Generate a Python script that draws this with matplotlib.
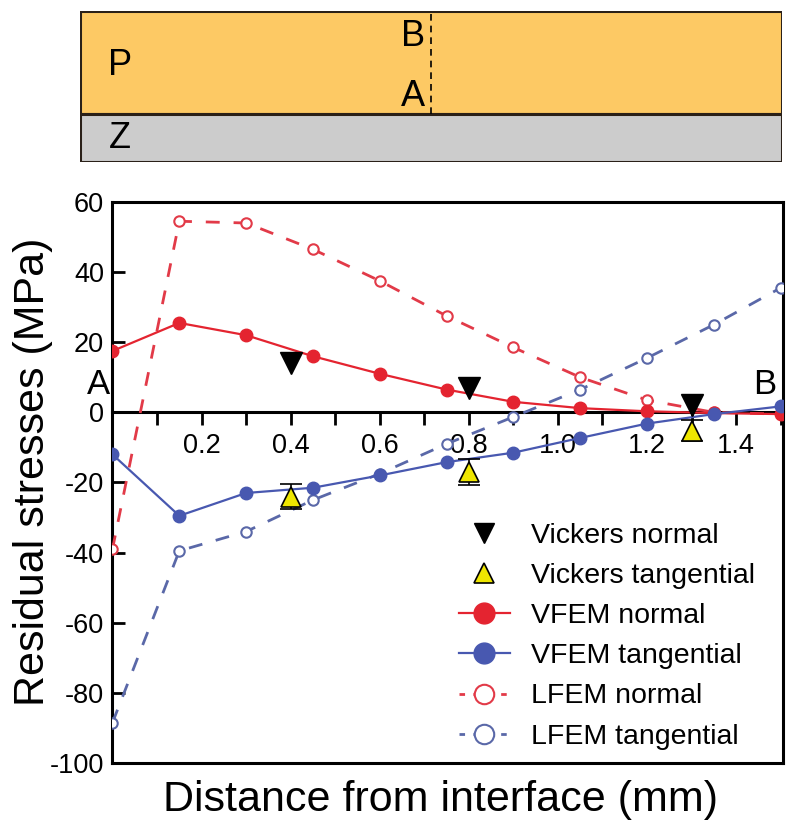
import matplotlib
matplotlib.use("Agg")
import matplotlib.pyplot as plt
from matplotlib.patches import Rectangle
from matplotlib.lines import Line2D
from matplotlib.ticker import MultipleLocator

plt.rcParams['font.family'] = ['Liberation Sans', 'DejaVu Sans']
plt.rcParams['axes.unicode_minus'] = False

# distance from interface (mm) for the FEM curves
dist = [0.0, 0.15, 0.30, 0.45, 0.60, 0.75, 0.90, 1.05, 1.20, 1.35, 1.50]
vfem_normal = [17.5, 25.5, 22.0, 16.0, 11.0, 6.5, 3.0, 1.2, 0.3, -0.2, -0.5]
vfem_tang = [-12.0, -29.5, -23.0, -21.5, -18.0, -14.2, -11.5, -7.3, -3.2, -0.5, 1.7]
lfem_normal = [-39.0, 54.5, 54.0, 46.5, 37.5, 27.5, 18.5, 10.0, 3.5, 0.0, -0.5]
lfem_tang = [-88.5, -39.5, -34.0, -25.0, -17.5, -9.0, -1.3, 6.5, 15.5, 25.0, 35.5]

# Vickers measurements
vk_x = [0.40, 0.80, 1.30]
vk_normal = [14.2, 7.0, 2.0]
vk_normal_err = [1.2, 0.0, 0.0]
vk_tang = [-24.0, -17.0, -5.2]
vk_tang_err = [3.7, 3.7, 3.0]

red = '#e42430'
blue = '#4858b0'
red_d = '#e23a48'
blue_d = '#5a68a8'

fig = plt.figure(figsize=(8, 8.38), dpi=100)

# ---- schematic on top
ax0 = fig.add_axes([0.1, 0.807, 0.8775, 0.18])
ax0.set_xlim(0, 1)
ax0.set_ylim(0, 1)
ax0.axis('off')
iface = 0.316
ax0.add_patch(Rectangle((0, iface), 1, 1 - iface, facecolor='#fdc964', edgecolor='#2a2018', lw=2.2))
ax0.add_patch(Rectangle((0, 0), 1, iface, facecolor='#cccccc', edgecolor='#2a2018', lw=2.2))
ax0.plot([0.5, 0.5], [iface, 1], color='k', lw=1.2, ls=(0, (4, 3)))
tkw = dict(fontsize=26, ha='center', va='center')
ax0.text(0.474, 0.83, 'B', **tkw)
ax0.text(0.474, 0.435, 'A', **tkw)
ax0.text(0.057, 0.64, 'P', **tkw)
ax0.text(0.057, 0.157, 'Z', **tkw)

# ---- stress plot
ax = fig.add_axes([0.1406, 0.0895, 0.838, 0.6695])
ax.set_xlim(0, 1.505)
ax.set_ylim(-100, 60)

ax.plot(dist, lfem_normal, color=red_d, ls=(0, (5, 5)), lw=2, marker='o', ms=7.5,
        mfc='white', mec=red_d, mew=1.5, zorder=3)
ax.plot(dist, lfem_tang, color=blue_d, ls=(0, (5, 5)), lw=2, marker='o', ms=7.5,
        mfc='white', mec=blue_d, mew=1.5, zorder=3)
ax.plot(dist, vfem_normal, color=red, lw=1.6, marker='o', ms=9, mfc=red, mec=red, zorder=4)
ax.plot(dist, vfem_tang, color=blue, lw=1.6, marker='o', ms=9, mfc=blue, mec=blue, zorder=4)

ax.errorbar(vk_x, vk_tang, yerr=vk_tang_err, fmt='^', ms=15, mfc='#eee600', mec='k',
            mew=1.2, ecolor='k', elinewidth=1.2, capsize=8, capthick=1.5, zorder=6)
ax.errorbar(vk_x, vk_normal, yerr=vk_normal_err, fmt='v', ms=16, color='k',
            elinewidth=1.2, capsize=0, zorder=6)

for s in ax.spines.values():
    s.set_linewidth(2.2)
ax.tick_params(axis='x', bottom=False, labelbottom=False)
ax.set_yticks(range(-100, 61, 20))
ax.tick_params(axis='y', direction='in', length=9, width=2, labelsize=19.5, pad=6)

# x axis drawn through zero stress
ylo, yhi = ax.get_ylim()
sec = ax.secondary_xaxis((0 - ylo) / (yhi - ylo))
sec.spines['top'].set_linewidth(2.2)
sec.spines['bottom'].set_linewidth(2.2)
sec.set_xticks([0.2, 0.4, 0.6, 0.8, 1.0, 1.2, 1.4])
sec.xaxis.set_minor_locator(MultipleLocator(0.1))
sec.tick_params(axis='x', which='both', top=False, labeltop=False, bottom=True, labelbottom=True,
                direction='out', length=9, width=2, labelsize=19.5, pad=6)

ax.text(-0.006, 8, 'A', fontsize=25, ha='right', va='center', clip_on=False)
ax.text(1.465, 8, 'B', fontsize=25, ha='center', va='center')

ax.set_xlabel('Distance from interface (mm)', fontsize=31)
ax.xaxis.set_label_coords(0.49, -0.03)
ax.set_ylabel('Residual stresses (MPa)', fontsize=31)
ax.yaxis.set_label_coords(-0.088, 0.519)

handles = [
    Line2D([], [], ls='none', marker='v', ms=15, color='k'),
    Line2D([], [], ls='none', marker='^', ms=15, mfc='#eee600', mec='k', mew=1.2),
    Line2D([], [], color=red, lw=1.6, marker='o', ms=15, mfc=red, mec=red),
    Line2D([], [], color=blue, lw=1.6, marker='o', ms=15, mfc=blue, mec=blue),
    Line2D([], [], color=red_d, lw=2, ls=(0, (2, 3)), marker='o', ms=14, mfc='white', mec=red_d, mew=1.5),
    Line2D([], [], color=blue_d, lw=2, ls=(0, (2, 3)), marker='o', ms=14, mfc='white', mec=blue_d, mew=1.5),
]
labels = ['Vickers normal', 'Vickers tangential', 'VFEM normal', 'VFEM tangential',
          'LFEM normal', 'LFEM tangential']
ax.legend(handles, labels, loc='upper left', bbox_to_anchor=(0.495, 0.454), frameon=False,
          fontsize=20.5, handlelength=1.8, handletextpad=0.75, labelspacing=0.5, borderpad=0)

fig.savefig('out.png', dpi=100)
